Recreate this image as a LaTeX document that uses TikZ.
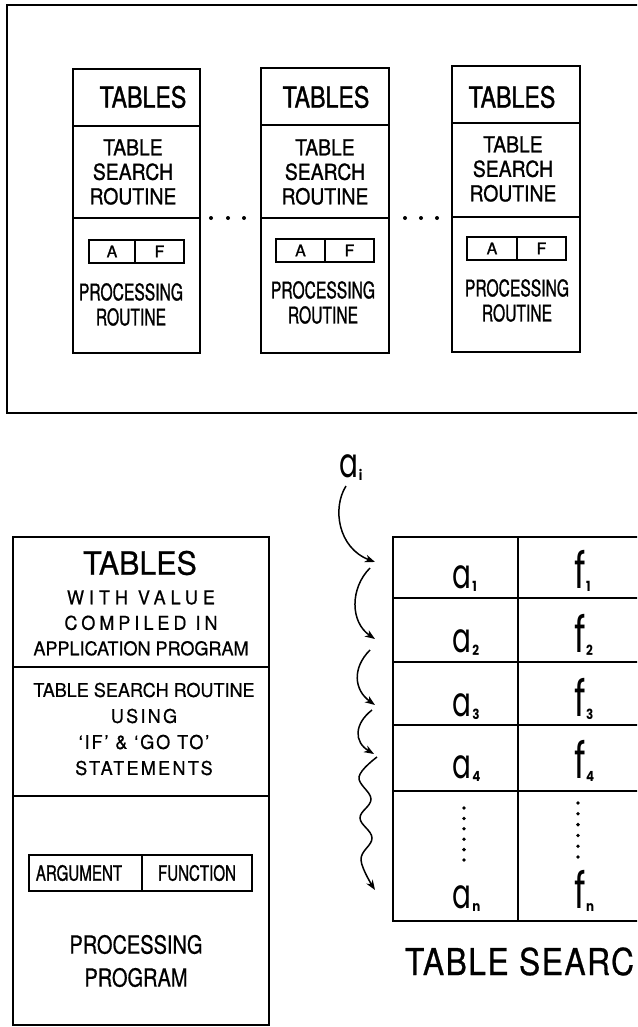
\documentclass[tikz,border=0pt]{standalone}
\usepackage{fontspec}
\usetikzlibrary{arrows.meta}
\newfontfamily\fTopT[FakeStretch=0.80,FakeBold=1.2]{TeX Gyre Heros}
\newfontfamily\fTopS[FakeStretch=0.88,FakeBold=1.0]{TeX Gyre Heros}
\newfontfamily\fNarrow[FakeStretch=0.68,FakeBold=1.0]{TeX Gyre Heros}
\newfontfamily\fAF[FakeBold=1.0]{TeX Gyre Heros}
\newfontfamily\fWide[FakeStretch=0.95,FakeBold=0.6]{TeX Gyre Heros}
\newfontfamily\fArg[FakeStretch=0.72,FakeBold=1.0]{TeX Gyre Heros}
\newfontfamily\fProc[FakeStretch=0.80,FakeBold=0.6]{TeX Gyre Heros}
\newfontfamily\fCap[FakeStretch=0.86,FakeBold=0.6]{TeX Gyre Heros}
\newfontfamily\fLetA[FakeStretch=0.68]{Poppins}
\newfontfamily\fLetF[FakeStretch=0.70]{Poppins}
\newfontfamily\fSub[FakeStretch=0.85]{Poppins}
\newcommand\fsz[2]{\fontsize{#1pt}{#2pt}\selectfont}
\newcommand\ls[2]{{\addfontfeature{LetterSpace=#1}#2}}
\begin{document}
\begin{tikzpicture}[x=1pt,y=-1pt,
  frame/.style={line width=1.8pt},
  boxline/.style={line width=2.2pt},
  thinbox/.style={line width=1.6pt},
  tline/.style={line width=2pt},
  lbl/.style={inner sep=0pt,outer sep=0pt},
  arr/.style={line width=1.5pt,-{Stealth[length=10pt,width=7.5pt,inset=3pt]}},
  cella/.style={lbl,anchor=base west,font=\fLetA\fsz{41}{41}},
  cellf/.style={lbl,anchor=base west,font=\fLetF\fsz{50}{50}},
]
\useasboundingbox (0,0) rectangle (637,1027);
\fill[white] (0,0) rectangle (637,1027);
\clip (0,0) rectangle (637,1027);

% ---------- top frame ----------
\draw[frame] (7,5) rectangle (648,413);

\foreach \n/\l/\r/\t/\da/\db/\b/\tx/\sx/\sy/\afl/\afd/\afr/\aft/\px/\py in
 {1/72.6/200/69/126/218/353/143/133/0/89/135/184/240/131/292,
  2/261/388.6/68/125/218/353/326/325/0/276/325/374/239/323/290,
  3/452/580/66/123/217/352/512/513/-3/467/517/566/237/517/288}{
  \draw[boxline] (\l,\t) rectangle (\r,\b);
  \draw[boxline] (\l,\da) -- (\r,\da);
  \draw[boxline] (\l,\db) -- (\r,\db);
  \node[lbl,font=\fTopT\fsz{29}{34}] (tab\n) at (\tx,97) {TABLES};
  \node[lbl,font=\fTopS\fsz{22}{24.5},align=center] (tsr\n) at (\sx,{172+\sy}) {TABLE\\SEARCH\\ROUTINE};
  \draw[thinbox] (\afl,\aft) rectangle (\afr,{\aft+23});
  \draw[thinbox] (\afd,\aft) -- (\afd,{\aft+23});
  \node[lbl,font=\fAF\fsz{16}{16}] (a\n) at ({(\afl+\afd)/2},{\aft+11.5}) {A};
  \node[lbl,font=\fAF\fsz{16}{16}] (f\n) at ({(\afd+\afr)/2},{\aft+11.5}) {F};
  \node[lbl,font=\fNarrow\fsz{23}{25}] (proc\n) at (\px,{\py+12.5}) [align=center] {PROCESSING\\ROUTINE};
}
\foreach \x in {211,228,244,405,421,437}{ \fill (\x,218) circle (2pt); }

% ---------- lower-left box ----------
\draw[boxline] (13,537) rectangle (269,1025);
\draw[boxline] (13,667) -- (269,667);
\draw[boxline] (13,796) -- (269,796);
\node[lbl,font=\fWide\fsz{32}{36}] (btab) at (140,563) {TABLES};
\node[lbl,font=\fWide\fsz{19}{25.5},align=center] (bwith) at (141,623)
  {\ls{26}{WITH VALUE}\\\ls{21}{COMPILED IN}\\APPLICATION PROGRAM};
\node[lbl,font=\fWide\fsz{19}{26},align=center] (bsearch) at (144,729)
  {TABLE SEARCH ROUTINE\\\ls{12}{USING}\\\ls{10}{‘IF’ \& ‘GO TO’}\\\ls{12}{STATEMENTS}};
\draw[thinbox] (29,855) rectangle (252,891);
\draw[thinbox] (142,855) -- (142,891);
\node[lbl,font=\fArg\fsz{21}{21}] (barg) at (79,873) {ARGUMENT};
\node[lbl,font=\fArg\fsz{21}{21}] (bfun) at (197,873) {FUNCTION};
\node[lbl,font=\fProc\fsz{25}{33},align=center] (bproc) at (136,961) {PROCESSING\\PROGRAM};

% ---------- table ----------
\draw[tline] (648,537) -- (393,537) -- (393,921) -- (648,921);
\foreach \yy in {598,662,725,791}{ \draw[tline] (393,\yy) -- (648,\yy); }
\draw[tline] (518,537) -- (518,921);

\foreach \k/\yb/\s in {1/588/1,2/652/2,3/716/3,4/778/4,n/908/n}{
  \node[cella] (ta\k) at (452,\yb) {a\kern1.5pt\raisebox{-3pt}{\fSub\bfseries\fsz{14}{14}\s}};
  \node[cellf] (tf\k) at (574,\yb) {f\kern0.5pt\raisebox{-3pt}{\fSub\bfseries\fsz{14}{14}\s}};
}
\foreach \i in {0,...,5}{
  \fill ({464},{808+10.4*\i}) circle (1.9pt);
  \fill ({578},{803+10.8*\i}) circle (1.9pt);
}

% ---------- search arrows ----------
\node[cella] (ai) at (339,477) {a\kern1pt\raisebox{-3pt}{\fSub\bfseries\fsz{14}{14}i}};
\coordinate (s1) at (346,486);
\coordinate (e1) at (375,562);
\coordinate (s2) at (370,568);
\coordinate (e2) at (375,639);
\coordinate (s3) at (370,650);
\coordinate (e3) at (375,705);
\coordinate (s4) at (372,710);
\coordinate (e4) at (374,754);
\draw[arr] (s1) .. controls (332,508) and (338,548) .. (e1);
\draw[arr] (s2) .. controls (350,588) and (350,622) .. (e2);
\draw[arr] (s3) .. controls (352,668) and (354,690) .. (e3);
\draw[arr] (s4) .. controls (354,724) and (354,742) .. (e4);
\draw[arr] plot[smooth,tension=0.65] coordinates
  {(377,757) (359,777) (371,799) (360,818) (372,838) (361,860) (375,890)};

% ---------- caption ----------
\node[lbl,anchor=base west,font=\fCap\fsz{37}{37}] (cap) at (405,975) {\ls{4}{TABLE SEARC}};
\end{tikzpicture}
\end{document}
